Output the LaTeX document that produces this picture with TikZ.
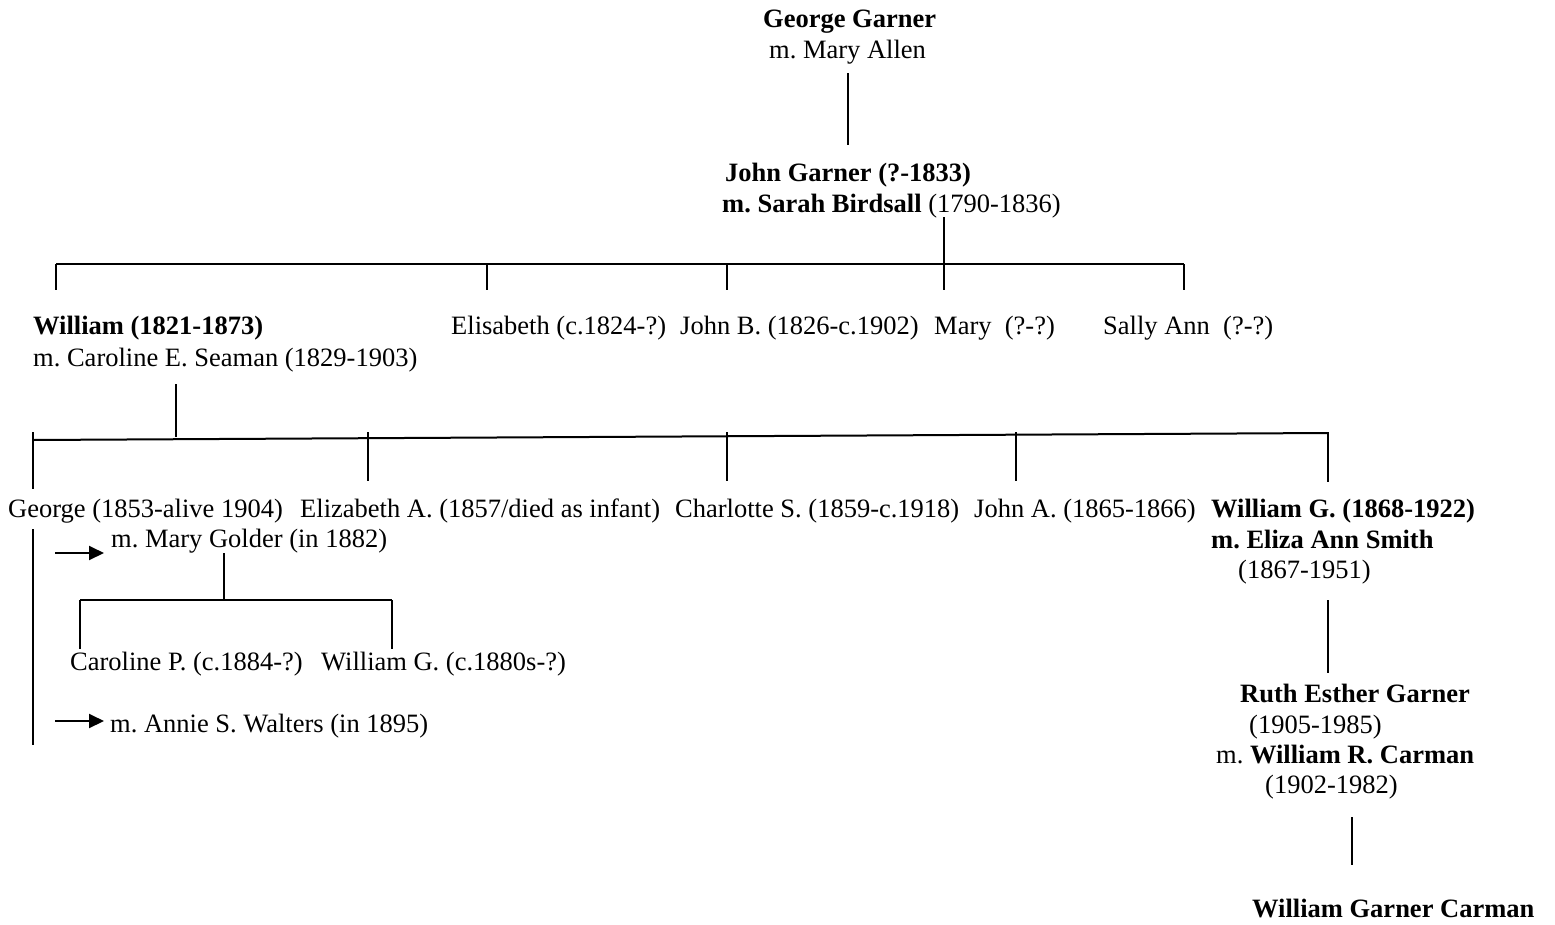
\documentclass[tikz,border=0pt]{standalone}
\usepackage{fontspec}
\setmainfont{Liberation Serif}
\usetikzlibrary{arrows.meta}
\frenchspacing
\begin{document}
\begin{tikzpicture}[x=1pt,y=-1pt,
  txt/.style={anchor=base west,inner sep=0pt,font=\fontsize{26.5}{32}\selectfont\frenchspacing},
  ln/.style={line width=2pt},
  arr/.style={line width=2pt,-{Triangle[length=15pt,width=14pt]}}]
\useasboundingbox (0,0) rectangle (1555,924);
% generation 0
\node[txt] (gg1) at (763,27) {\bfseries George Garner};
\node[txt] (gg2) at (769,58) {m. Mary Allen};
% generation 1
\node[txt] (jg1) at (725,181) {\bfseries John Garner (?-1833)};
\node[txt] (jg2) at (722,212) {\bfseries m. Sarah Birdsall \mdseries(1790-1836)};
% children of John
\node[txt] (w1) at (33,334) {\bfseries William (1821-1873)};
\node[txt] (w2) at (33,366) {m. Caroline E. Seaman (1829-1903)};
\node[txt] (el) at (451,334) {Elisabeth (c.1824-?)};
\node[txt] (jb) at (680,334) {John B. (1826-c.1902)};
\node[txt] (ma) at (934,334) {Mary\ \ (?-?)};
\node[txt] (sa) at (1103,334) {Sally Ann\ \ (?-?)};
% children of William
\node[txt] (ge) at (8,517) {George (1853-alive 1904)};
\node[txt] (ea) at (300,517) {Elizabeth A. (1857/died as infant)};
\node[txt] (cs) at (675,517) {Charlotte S. (1859-c.1918)};
\node[txt] (ja) at (974,517) {John A. (1865-1866)};
\node[txt] (wg1) at (1211,517) {\bfseries William G. (1868-1922)};
\node[txt] (wg2) at (1211,548) {\bfseries m. Eliza Ann Smith};
\node[txt] (wg3) at (1238,578) {(1867-1951)};
% George's marriages
\node[txt] (mg) at (111,547) {m. Mary Golder (in 1882)};
\node[txt] (cp) at (70,670) {Caroline P. (c.1884-?)};
\node[txt] (wgc) at (321,670) {William G. (c.1880s-?)};
\node[txt] (aw) at (110,732) {m. Annie S. Walters (in 1895)};
% Ruth
\node[txt] (r1) at (1240,702) {\bfseries Ruth Esther Garner};
\node[txt] (r2) at (1249,733) {(1905-1985)};
\node[txt] (r3) at (1216,763) {m. \bfseries William R. Carman};
\node[txt] (r4) at (1265,793) {(1902-1982)};
\node[txt] (wgcm) at (1252,917) {\bfseries William Garner Carman};
% connector coordinates
\coordinate (a0) at (848,73);
\coordinate (a1) at (848,145);
\coordinate (b0) at (944,217);
\coordinate (b1) at (944,290);
\coordinate (bl) at (56,264);
\coordinate (br) at (1184,264);
\coordinate (c0) at (176,384);
\coordinate (c1) at (176,436.5);
\coordinate (cl) at (33,440);
\coordinate (cr) at (1328,433);
\coordinate (d0) at (224,553);
\coordinate (dl) at (80,600);
\coordinate (dr) at (392,600);
\coordinate (e0) at (1328,600);
\coordinate (e1) at (1328,673);
\coordinate (f0) at (1352,817);
\coordinate (f1) at (1352,865);
\coordinate (g0) at (33,529);
\coordinate (g1) at (33,745);
\coordinate (h0) at (55,553);
\coordinate (h1) at (104,553);
\coordinate (k0) at (55,721);
\coordinate (k1) at (104,721);
% lines
\draw[ln] (a0) -- (a1);
\draw[ln] (b0) -- (b1);
\draw[ln] (bl |- br) -- (br);
\foreach \x in {56,487,727,1184} \draw[ln] (\x,264) -- (\x,290);
\draw[ln] (c0) -- (c1);
\draw[ln] (cl) -- (cr);
\draw[ln] (33,432) -- (33,489);
\foreach \x in {368,727,1016} \draw[ln] (\x,432) -- (\x,481);
\draw[ln] (1328,432) -- (1328,482);
\draw[ln] (d0) -- (224,600);
\draw[ln] (dl) -- (dr);
\draw[ln] (dl) -- (80,649);
\draw[ln] (dr) -- (392,649);
\draw[ln] (e0) -- (e1);
\draw[ln] (f0) -- (f1);
\draw[ln] (g0) -- (g1);
\draw[arr] (h0) -- (h1);
\draw[arr] (k0) -- (k1);
\end{tikzpicture}
\end{document}
